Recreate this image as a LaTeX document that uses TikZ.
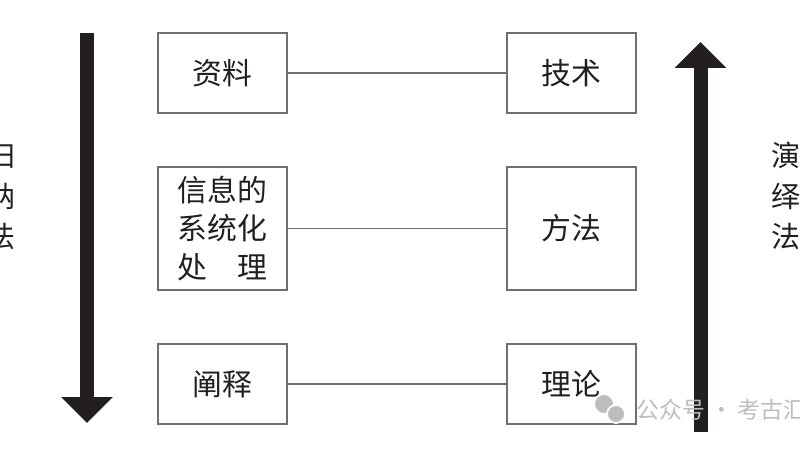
\documentclass[tikz,border=0pt]{standalone}
\usepackage{fontspec}
\setmainfont{Noto Sans CJK SC}
\usetikzlibrary{arrows.meta}
\definecolor{ink}{HTML}{231F20}
\definecolor{frame}{HTML}{707070}
\definecolor{wmgray}{HTML}{BDBDBD}
\tikzset{
  every node/.style={text=ink},
  box/.style={draw=frame,line width=0.8pt,minimum width=2.58cm,minimum height=1.6cm,align=center,inner sep=0pt,font=\fontsize{17}{22}\selectfont},
  tallbox/.style={box,minimum height=2.46cm},
  link/.style={draw=frame,line width=0.6pt},
  bigarrow/.style={draw=ink,line width=0.28cm,-{Triangle[width=1cm,length=0.52cm]}},
  side/.style={align=center,font=\fontsize{16.5}{23}\selectfont},
  wmark/.style={text=wmgray,font=\fontsize{13}{15}\selectfont,inner sep=0pt},
}

\begin{document}
\begin{tikzpicture}[x=0.02cm,y=-0.02cm]
  \useasboundingbox (0,0) rectangle (800,450);

  % left column
  \node[box] (data) at (222.5,73) {资料};
  \node[tallbox,align=left] (info) at (222.5,228.5) {信息的\\系统化\\处\hspace{1em}理};
  \node[box] (explain) at (222.5,384) {阐释};

  % right column
  \node[box] (tech) at (571.5,73) {技术};
  \node[tallbox] (method) at (571.5,228.5) {方法};
  \node[box] (theory) at (571.5,384) {理论};

  \draw[link] (data) -- (tech);
  \draw[link] (info) -- (method);
  \draw[link] (explain) -- (theory);

  % induction / deduction
  \coordinate (indtop) at (87,33);
  \coordinate (indend) at (87,423);
  \coordinate (dedbot) at (700.5,432);
  \coordinate (dedend) at (700.5,42);
  \draw[bigarrow] (indtop) -- (indend);
  \draw[bigarrow] (dedbot) -- (dedend);
  \node[side] (induct) at (1,196) {归\\纳\\法};
  \node[side] (deduct) at (786,196) {演\\绎\\法};

  % watermark
  \fill[wmgray,draw=white,line width=1pt] (604,404) circle (10);
  \fill[wmgray,draw=white,line width=1pt] (616,414) circle (9);
  \node[wmark,anchor=west] (wm) at (636,410) {公众号 · 考古汇};
\end{tikzpicture}
\end{document}
